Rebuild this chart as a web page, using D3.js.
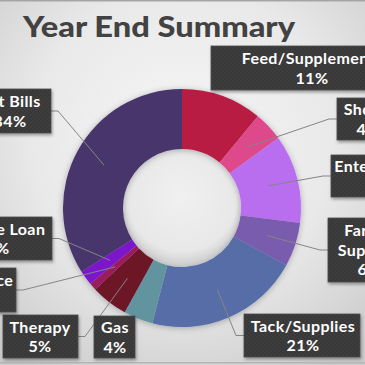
<!DOCTYPE html>
<html>
<head>
<meta charset="utf-8">
<script src="https://cdn.jsdelivr.net/npm/d3@7"></script>
<style>
  html, body { margin: 0; padding: 0; overflow: hidden; }
  svg { display: block; }
  text { font-family: Lato, "Open Sans", sans-serif; font-weight: 700; }
</style>
</head>
<body>
<script>
// chart data
var categories = ["Feed/Supplements", "Shows", "Entertainment", "Farrier Supplies", "Tack/Supplies",
                  "Gas", "Therapy", "Insurance", "Vehicle Loan", "Vet Bills"];
var values = [11, 4, 12, 6, 21, 4, 5, 1, 2, 34];
var percentLabels = ["11%", "4%", "12%", "6%", "21%", "4%", "5%", "1%", "2%", "34%"];
var sliceColors = ["#b81e42", "#de488b", "#b96ef0", "#7a5bae", "#566da7",
                   "#6294a0", "#6d1228", "#991c5c", "#7c16cb", "#47346c"];

// label box layout (cx = text centre, x0/x1 = box edges, y0/y1 = box top/bottom)
var boxes = [
  {x0: 211, x1: 413, y0: 46, y1: 90, cx: 312, lines: ["Feed/Supplements"], leader: false},
  {x0: 337, x1: 397, y0: 98, y1: 140, cx: 368, lines: ["Shows"], leader: "left"},
  {x0: 331, x1: 441, y0: 155, y1: 197, cx: 388, lines: ["Entertainment"], leader: "left"},
  {x0: 328, x1: 408, y0: 218, y1: 282, cx: 369, lines: ["Farrier", "Supplies"], leader: "left"},
  {x0: 244, x1: 360, y0: 314, y1: 357, cx: 303, lines: ["Tack/Supplies"], leader: "left"},
  {x0: 94, x1: 135, y0: 316, y1: 358, cx: 115, lines: ["Gas"], leader: false},
  {x0: 3, x1: 78, y0: 315, y1: 358, cx: 40, lines: ["Therapy"], leader: "right"},
  {x0: -60, x1: 16, y0: 268, y1: 312, cx: -23, lines: ["Insurance"], leader: "right"},
  {x0: -52, x1: 52, y0: 217, y1: 260, cx: -2, lines: ["Vehicle Loan"], leader: "right"},
  {x0: -28, x1: 51, y0: 89, y1: 133, cx: 10, lines: ["Vet Bills"], leader: "right"}
];

var W = 365, H = 365,
    cx = 182, cy = 208,
    innerR = 59, outerR = 119;

var svg = d3.select("body").append("svg")
    .attr("width", W)
    .attr("height", H);

var defs = svg.append("defs");

// background gradient
var bg = defs.append("radialGradient")
    .attr("id", "bg")
    .attr("cx", "50%").attr("cy", "38%").attr("r", "75%");
bg.append("stop").attr("offset", "0%").attr("stop-color", "#f6f6f6");
bg.append("stop").attr("offset", "55%").attr("stop-color", "#e9e9e9");
bg.append("stop").attr("offset", "100%").attr("stop-color", "#cbcbcb");

// hole shading
var hole = defs.append("radialGradient")
    .attr("id", "hole")
    .attr("cx", "50%").attr("cy", "40%").attr("r", "55%");
hole.append("stop").attr("offset", "0%").attr("stop-color", "#f0f0f0");
hole.append("stop").attr("offset", "85%").attr("stop-color", "#e8e8e8");
hole.append("stop").attr("offset", "100%").attr("stop-color", "#d6d6d6");

// dotted texture for the label boxes
var pat = defs.append("pattern")
    .attr("id", "dots")
    .attr("width", 4).attr("height", 4)
    .attr("patternUnits", "userSpaceOnUse");
pat.append("rect").attr("width", 4).attr("height", 4).attr("fill", "#393939");
pat.append("circle").attr("cx", 1).attr("cy", 1).attr("r", 0.7).attr("fill", "#474747");
pat.append("circle").attr("cx", 3).attr("cy", 3).attr("r", 0.7).attr("fill", "#474747");

var shadow = defs.append("filter")
    .attr("id", "shadow")
    .attr("x", "-20%").attr("y", "-20%").attr("width", "140%").attr("height", "140%");
shadow.append("feDropShadow")
    .attr("dx", 0).attr("dy", 1).attr("stdDeviation", 3)
    .attr("flood-color", "#000").attr("flood-opacity", 0.28);

var boxShadow = defs.append("filter")
    .attr("id", "boxShadow")
    .attr("x", "-20%").attr("y", "-20%").attr("width", "140%").attr("height", "150%");
boxShadow.append("feDropShadow")
    .attr("dx", 1).attr("dy", 2).attr("stdDeviation", 1.5)
    .attr("flood-color", "#000").attr("flood-opacity", 0.35);

svg.append("rect")
    .attr("width", W).attr("height", H)
    .attr("fill", "url(#bg)");

// thin slide borders top and bottom
svg.append("rect").attr("x", 0).attr("y", 0).attr("width", W).attr("height", 1.5).attr("fill", "#a5a5a5");
svg.append("rect").attr("x", 0).attr("y", 362).attr("width", W).attr("height", 1.5).attr("fill", "#b5b5b5");

// title
svg.append("text")
    .attr("x", 23)
    .attr("y", 37)
    .attr("fill", "#424242")
    .attr("textLength", 272)
    .attr("lengthAdjust", "spacingAndGlyphs")
    .style("font-size", "28px")
    .style("font-weight", 900)
    .text("Year End Summary");

// donut
var data = categories.map(function(c, i) {
  return {name: c, value: values[i], pct: percentLabels[i], color: sliceColors[i], box: boxes[i]};
});

var pie = d3.pie()
    .sort(null)
    .value(function(d) { return d.value; });

var arc = d3.arc()
    .innerRadius(innerR)
    .outerRadius(outerR);

var midArc = d3.arc()
    .innerRadius((innerR + outerR) / 2)
    .outerRadius((innerR + outerR) / 2);

var arcs = pie(data);

var chart = svg.append("g")
    .attr("transform", "translate(" + cx + "," + cy + ")");

chart.append("circle")
    .attr("r", innerR)
    .attr("fill", "url(#hole)");

chart.append("g")
    .attr("filter", "url(#shadow)")
  .selectAll("path")
  .data(arcs)
  .enter().append("path")
    .attr("d", arc)
    .attr("fill", function(d) { return d.data.color; });

// leader lines
arcs.forEach(function(d) {
  var b = d.data.box;
  if (!b.leader) return;
  var c = midArc.centroid(d);
  var yMid = (b.y0 + b.y1) / 2;
  var xEdge = b.leader === "left" ? b.x0 : b.x1;
  var xKnee = b.leader === "left" ? xEdge - 8 : xEdge + 7;
  svg.append("polyline")
      .attr("points", [[c[0] + cx, c[1] + cy], [xKnee, yMid], [xEdge, yMid]].join(" "))
      .attr("fill", "none")
      .attr("stroke", "#858585")
      .attr("stroke-width", 1);
});

// label boxes
var labels = svg.selectAll(".lbl")
  .data(data)
  .enter().append("g")
    .attr("class", "lbl");

labels.append("rect")
    .attr("x", function(d) { return d.box.x0; })
    .attr("y", function(d) { return d.box.y0; })
    .attr("width", function(d) { return d.box.x1 - d.box.x0; })
    .attr("height", function(d) { return d.box.y1 - d.box.y0; })
    .attr("fill", "url(#dots)")
    .attr("stroke", "#4a4a4a")
    .attr("stroke-width", 0.8)
    .attr("filter", "url(#boxShadow)");

labels.each(function(d) {
  var g = d3.select(this);
  var lines = d.box.lines.concat([d.pct]);
  var step = 19.5;
  var top = (d.box.y0 + d.box.y1) / 2 - step * (lines.length - 1) / 2;
  lines.forEach(function(t, i) {
    g.append("text")
        .attr("x", d.box.cx)
        .attr("y", top + i * step)
        .attr("dy", "0.36em")
        .attr("text-anchor", "middle")
        .attr("fill", "#ffffff")
        .style("font-size", "16px")
        .style("letter-spacing", "0.4px")
        .text(t);
  });
});
</script>
</body>
</html>
